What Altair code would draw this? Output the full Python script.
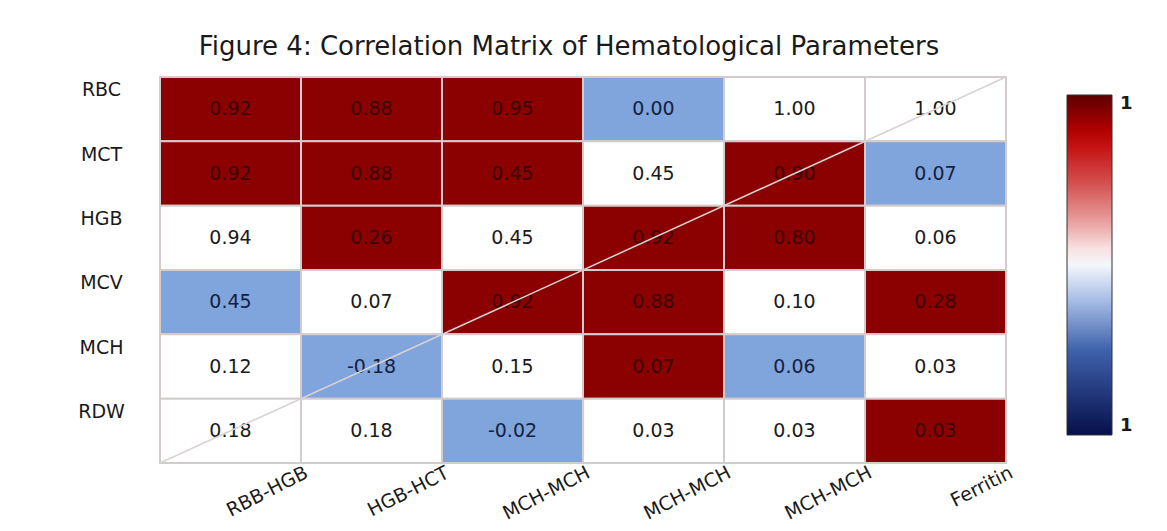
import altair as alt
import pandas as pd

# ---- data ----
rows = ["RBC", "MCT", "HGB", "MCV", "MCH", "RDW"]
cols = ["RBB-HGB", "HGB-HCT", "MCH-MCH", "MCH-MCH", "MCH-MCH", "Ferritin"]
values = [
    [0.92, 0.88, 0.95, 0.00, 1.00, 1.00],
    [0.92, 0.88, 0.45, 0.45, 0.90, 0.07],
    [0.94, 0.26, 0.45, 0.92, 0.80, 0.06],
    [0.45, 0.07, 0.92, 0.88, 0.10, 0.28],
    [0.12, -0.18, 0.15, 0.07, 0.06, 0.03],
    [0.18, 0.18, -0.02, 0.03, 0.03, 0.03],
]
# cell shading class as drawn: R = dark red, W = white, B = light blue
shades = [
    ["R", "R", "R", "B", "W", "W"],
    ["R", "R", "R", "W", "R", "B"],
    ["W", "R", "W", "R", "R", "W"],
    ["B", "W", "R", "R", "W", "R"],
    ["W", "B", "W", "R", "B", "W"],
    ["W", "W", "B", "W", "W", "R"],
]
legend_values = [-1, 1]

fill_map = {"R": "#8B0000", "W": "#FFFFFF", "B": "#7FA5DC"}
text_map = {"R": "#3a0505", "W": "#1a1a1a", "B": "#15213f"}

records = []
for ri, r in enumerate(rows):
    for ci in range(len(cols)):
        s = shades[ri][ci]
        v = values[ri][ci]
        records.append({
            "row": r,
            "ci": ci,
            "value": v,
            "label": f"{v:.2f}",
            "fillc": fill_map[s],
            "textc": text_map[s],
        })
df = pd.DataFrame(records)

W, H = 846, 386
label_expr = "[" + ",".join("'%s'" % c for c in cols) + "][datum.value]"

x_enc = alt.X(
    "ci:O",
    title=None,
    scale=alt.Scale(paddingInner=0, paddingOuter=0),
    axis=alt.Axis(
        labelExpr=label_expr, labelAngle=333, labelAlign="right",
        labelBaseline="top", labelPadding=0, labelOffset=72,
        domain=False, ticks=False, labelFont="DejaVu Sans",
        labelFontSize=19, labelColor="#1a1a1a",
    ),
)
y_enc = alt.Y(
    "row:N",
    sort=rows,
    title=None,
    scale=alt.Scale(paddingInner=0, paddingOuter=0),
    axis=alt.Axis(
        labelAlign="center", labelBaseline="middle", labelOffset=-19,
        labelPadding=59, domain=False, ticks=False, labelFont="DejaVu Sans",
        labelFontSize=19, labelColor="#1a1a1a",
    ),
)

base = alt.Chart(df)

rect = base.mark_rect(stroke="#d4cccc", strokeWidth=2).encode(
    x=x_enc, y=y_enc, fill=alt.Fill("fillc:N", scale=None)
)

text = base.mark_text(font="DejaVu Sans", fontSize=19).encode(
    x=x_enc, y=y_enc,
    text=alt.Text("label:N"),
    fill=alt.Fill("textc:N", scale=None),
)

legend_layer = alt.Chart(pd.DataFrame({"v": legend_values})).mark_point(
    size=0, opacity=0
).encode(
    x=alt.value(0), y=alt.value(0),
    color=alt.Color(
        "v:Q",
        scale=alt.Scale(
            domain=[-1, -0.5, -0.2, 0.03, 0.24, 0.5, 0.76, 1],
            range=["#060f4a", "#3f62ad", "#a9bfe6", "#ffffff",
                   "#eaa3a3", "#d24a4a", "#c00000", "#5c0000"],
            interpolate="rgb",
        ),
        legend=alt.Legend(
            title=None, orient="none", legendX=907, legendY=18,
            direction="vertical", gradientLength=340, gradientThickness=45,
            gradientStrokeColor="#333333", gradientStrokeWidth=1,
            values=legend_values, labelExpr="'1'", labelFont="DejaVu Sans",
            labelFontSize=18, labelFontWeight="bold", labelOffset=8,
            labelColor="#1a1a1a",
        ),
    ),
)

diag = alt.Chart(pd.DataFrame({"a": [0]})).mark_rule(
    color="#d8d2d2", strokeWidth=1.5
).encode(
    x=alt.value(0), x2=alt.value(W), y=alt.value(H), y2=alt.value(0)
)

chart = alt.layer(rect, text, diag, legend_layer).properties(
    width=W,
    height=H,
    autosize="none",
    padding={"left": 152, "top": 69, "right": 150, "bottom": 66},
    title=alt.TitleParams(
        "Figure 4: Correlation Matrix of Hematological Parameters",
        font="DejaVu Sans", fontSize=26, fontWeight="normal",
        color="#1a1a1a", anchor="middle", offset=16, dx=-14,
    ),
).configure_view(stroke=None).configure(background="white")

chart.save("out.html", embed_options={"renderer": "svg", "actions": False})
